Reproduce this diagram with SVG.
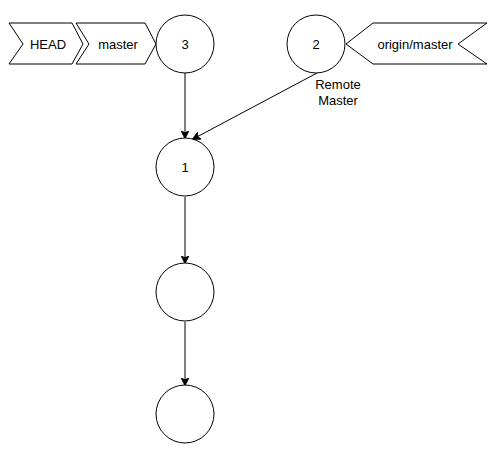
<svg xmlns="http://www.w3.org/2000/svg" width="500" height="461" viewBox="0 0 500 461">
<style>
.n{fill:#fff;stroke:#000;stroke-width:1}
.t{font-family:"Liberation Sans",Arial,sans-serif;font-size:13px;fill:#000;text-anchor:middle;dominant-baseline:central}
.e{stroke:#000;stroke-width:1;fill:none;marker-end:url(#a)}
</style>
<defs>
<marker id="a" viewBox="0 0 10 10" refX="9" refY="5" markerWidth="8" markerHeight="8" orient="auto" markerUnits="userSpaceOnUse">
<path d="M0,0 L10,5 L0,10 L2.5,5 Z" fill="#000" stroke="#000" stroke-width="1"/>
</marker>
</defs>
<rect width="500" height="461" fill="#fff"/>
<g id="edges">
<line class="e" x1="185" y1="73" x2="185" y2="138"/>
<line class="e" x1="317" y1="73" x2="193" y2="139"/>
<line class="e" x1="185" y1="197" x2="185" y2="263"/>
<line class="e" x1="185" y1="322" x2="185" y2="385"/>
</g>
<g id="head"><path class="n" d="M9,23 L72,23 L83,44 L72,64 L9,64 L23,44 Z"/><text class="t" x="48" y="44">HEAD</text></g>
<g id="master"><path class="n" d="M76,23 L145,23 L156,44 L145,64 L76,64 L89,44 Z"/><text class="t" x="118" y="44">master</text></g>
<g id="c3"><circle class="n" cx="185" cy="44" r="29"/><text class="t" x="185" y="44">3</text></g>
<g id="c2"><circle class="n" cx="316" cy="44" r="29"/><text class="t" x="316" y="44">2</text></g>
<g id="origin"><path class="n" d="M346,44 L373,23 L487,23 L458,44 L487,64 L373,64 Z"/><text class="t" x="415" y="44">origin/master</text></g>
<g id="remote"><text class="t" x="338" y="84">Remote</text><text class="t" x="338" y="100">Master</text></g>
<g id="c1"><circle class="n" cx="185" cy="167" r="29"/><text class="t" x="185" y="167">1</text></g>
<g id="c4"><circle class="n" cx="185" cy="292" r="29"/></g>
<g id="c5"><circle class="n" cx="185" cy="414" r="29"/></g>
</svg>
